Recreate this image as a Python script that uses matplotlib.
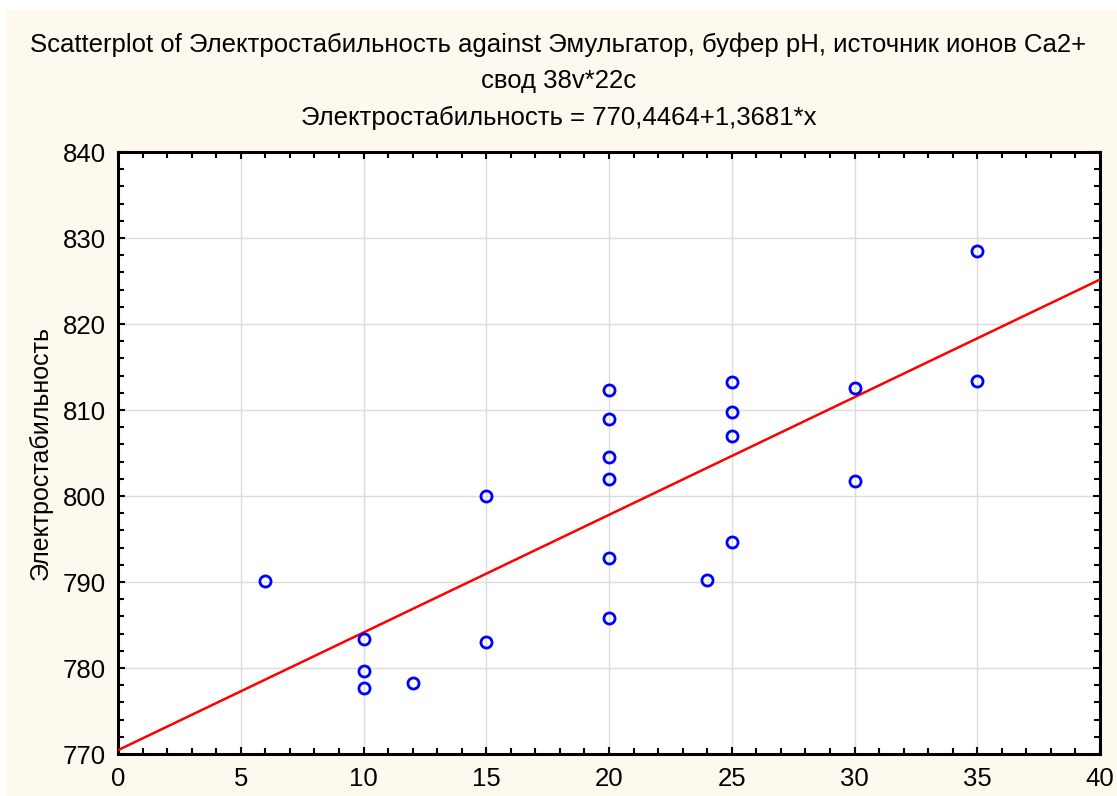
import matplotlib
matplotlib.use("Agg")
import matplotlib.pyplot as plt
from matplotlib.ticker import MultipleLocator
from matplotlib.patches import Rectangle
import numpy as np

plt.rcParams['font.family'] = ['Liberation Sans', 'DejaVu Sans']

emulsifier = [6, 10, 10, 10, 12, 15, 15, 20, 20, 20, 20, 20, 20, 24, 25, 25, 25, 25, 30, 30, 35, 35]
stability = [790.1, 783.4, 779.7, 777.7, 778.3, 800.0, 783.0, 812.3, 809.0, 804.5, 802.0, 792.8,
             785.8, 790.2, 813.2, 809.8, 807.0, 794.7, 812.6, 801.7, 828.5, 813.4]
intercept = 770.4464
slope = 1.3681

title_lines = ["Scatterplot of Электростабильность against Эмульгатор, буфер pH, источник ионов Ca2+",
               "свод 38v*22c",
               "Электростабильность = 770,4464+1,3681*x"]
ylabel = "Электростабильность"

fig = plt.figure(figsize=(11.17, 7.96), dpi=100)
fig.patch.set_facecolor('white')
bg = Rectangle((6/1117, 0), 1 - 6/1117, 1 - 10/796, transform=fig.transFigure,
               facecolor='#fdf9ef', edgecolor='none', zorder=-10)
fig.patches.append(bg)

ax = fig.add_axes([118/1117, 42/796, (1100-118)/1117, (754-152)/796])
ax.set_facecolor('white')

ax.set_xlim(0, 40)
ax.set_ylim(770, 840)
ax.xaxis.set_major_locator(MultipleLocator(5))
ax.xaxis.set_minor_locator(MultipleLocator(1))
ax.yaxis.set_major_locator(MultipleLocator(10))
ax.yaxis.set_minor_locator(MultipleLocator(2))
ax.grid(True, which='major', color='#dcdcdc', linewidth=1.0, zorder=0)
ax.set_axisbelow(True)

ax.tick_params(which='both', direction='in', top=True, right=True, width=1.5, colors='black',
               labelsize=18.5)
ax.tick_params(axis='y', which='major', length=5, pad=9)
ax.tick_params(axis='x', which='major', length=5, pad=9)
ax.tick_params(which='minor', length=4)
for s in ax.spines.values():
    s.set_linewidth(2.2)
    s.set_color('black')

xs = np.array([0, 40])
ax.plot(xs, intercept + slope * xs, color='#ff0000', linewidth=1.8, zorder=3)
ax.plot(emulsifier, stability, linestyle='none', marker='o', markersize=8,
        markerfacecolor='none', markeredgecolor='#0000ff', markeredgewidth=2.0, zorder=4,
        clip_on=False)

ax.set_ylabel(ylabel, fontsize=18, labelpad=7)

fig.text(0.5, 1 - 45/796, title_lines[0], ha='center', va='center', fontsize=18.5)
fig.text(0.5, 1 - 81/796, title_lines[1], ha='center', va='center', fontsize=18.5)
fig.text(0.5, 1 - 118/796, title_lines[2], ha='center', va='center', fontsize=18.5)

fig.savefig('out.png', dpi=100, facecolor=fig.get_facecolor())
